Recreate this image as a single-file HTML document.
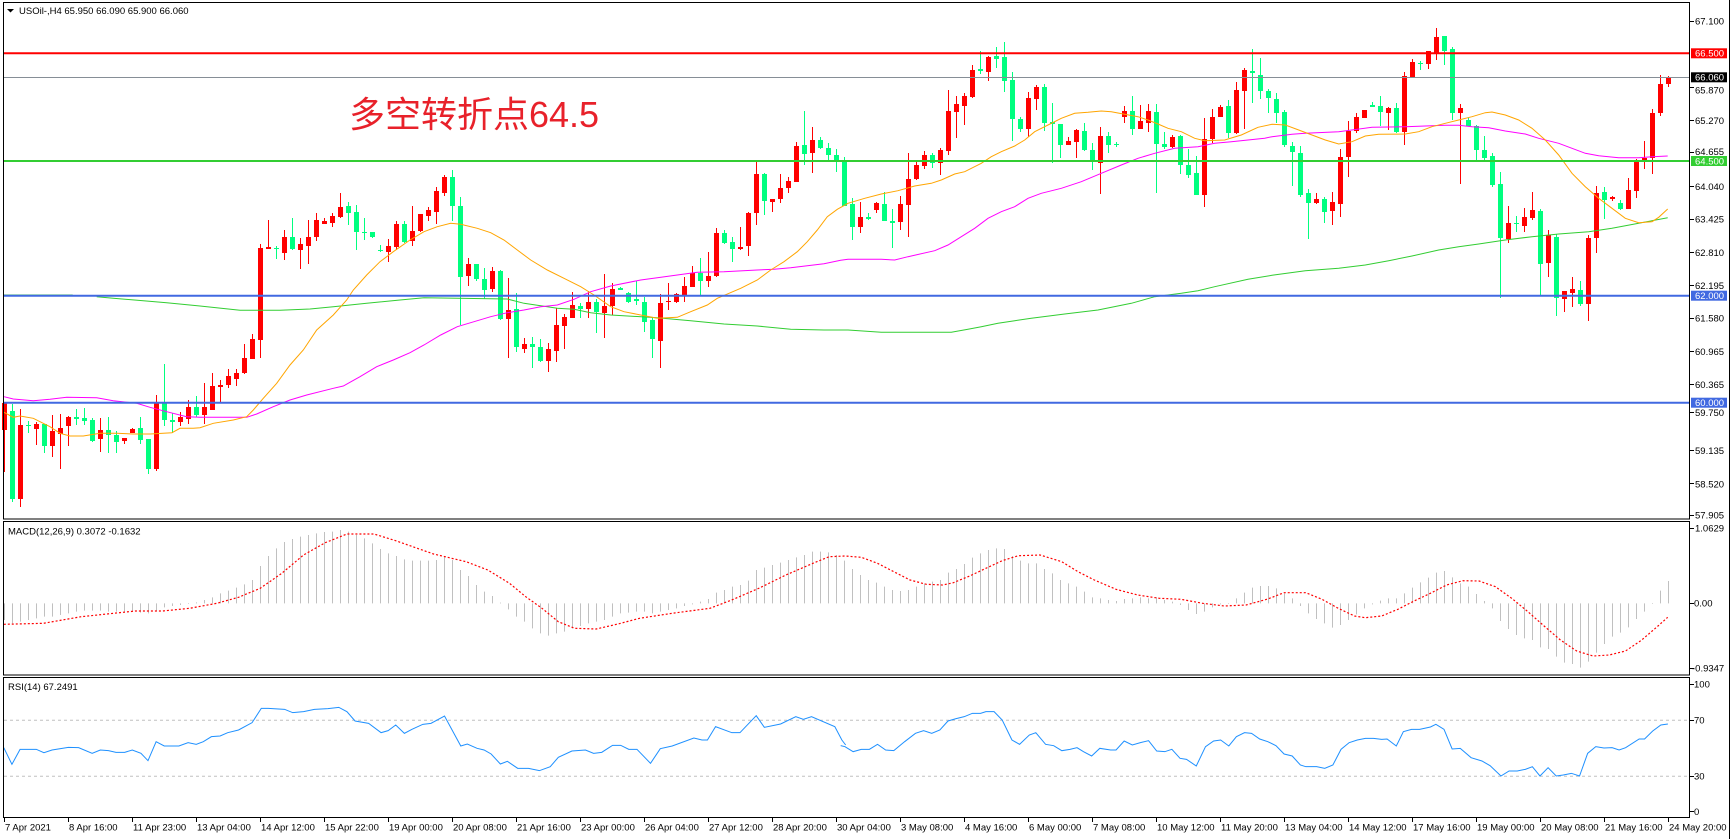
<!DOCTYPE html>
<html><head><meta charset="utf-8"><style>
html,body{margin:0;padding:0;background:#fff;}
svg{display:block;}
text{font-family:"Liberation Sans","Noto Sans CJK SC",sans-serif;font-size:9.5px;fill:#000;}
</style></head><body>
<svg width="1732" height="839" viewBox="0 0 1732 839" xmlns="http://www.w3.org/2000/svg">
<rect x="0" y="0" width="1732" height="839" fill="#fff"/>

<!-- candles -->
<path fill="none" stroke="#ff0000" stroke-width="1" d="M4.5 403V472M20.5 409V507M36.5 422V445M52.5 415V457M60.5 414V469M68.5 416V446M100.5 418V452M124.5 438V444M132.5 428V433M156.5 395V471M180.5 412V426M188.5 400V424M204.5 383V424M212.5 373V410M220.5 380V402M228.5 369V388M236.5 369V386M244.5 344V374M252.5 334V359M260.5 244V358M268.5 220V249M284.5 230V260M300.5 238V269M308.5 220V264M316.5 213V241M324.5 218V224M332.5 213V227M340.5 193V218M388.5 239V262M396.5 221V250M412.5 206V246M420.5 214V232M428.5 207V221M436.5 187V224M444.5 175V196M468.5 258V286M492.5 267V292M508.5 278V358M524.5 338V353M548.5 343V372M556.5 308V362M564.5 314V349M572.5 292V318M588.5 291V318M604.5 274V338M612.5 283V315M660.5 294V368M668.5 283V310M676.5 293V303M684.5 277V302M692.5 266V287M708.5 252V287M716.5 228V277M740.5 227V250M748.5 212V256M756.5 162V225M772.5 199V212M780.5 174V203M788.5 177V193M796.5 142V182M812.5 127V173M860.5 202V233M876.5 202V213M900.5 196V230M908.5 153V237M916.5 162V180M924.5 151V169M940.5 148V175M948.5 90V155M956.5 96V138M964.5 93V125M972.5 65V98M988.5 56V81M1028.5 92V137M1036.5 85V110M1068.5 137V145M1076.5 129V158M1100.5 127V194M1124.5 106V123M1140.5 105V129M1148.5 104V132M1172.5 135V148M1204.5 118V207M1212.5 109V143M1220.5 105V117M1236.5 82V134M1244.5 68V129M1316.5 193V204M1332.5 192V225M1340.5 149V217M1348.5 121V177M1356.5 113V133M1364.5 110V118M1388.5 107V130M1404.5 72V145M1412.5 59V78M1428.5 51V69M1436.5 28V60M1460.5 104V184M1508.5 206V243M1524.5 208V232M1532.5 192V220M1548.5 230V277M1564.5 291V312M1572.5 277V307M1588.5 235V321M1596.5 186V253M1612.5 196V201M1628.5 178V209M1636.5 159V198M1644.5 141V169M1652.5 109V174M1660.5 75V116M1668.5 76V87"/>
<path fill="#ff0000" d="M2 403h5v27h-5zM18 425h5v74h-5zM34 424h5v5h-5zM50 431h5v15h-5zM58 428h5v6h-5zM66 417h5v9h-5zM98 430h5v9h-5zM122 438h5v3h-5zM130 429h5v4h-5zM154 403h5v66h-5zM178 417h5v5h-5zM186 407h5v12h-5zM202 407h5v8h-5zM210 386h5v24h-5zM218 385h5v2h-5zM226 376h5v9h-5zM234 373h5v6h-5zM242 358h5v15h-5zM250 339h5v20h-5zM258 248h5v92h-5zM266 247h5v2h-5zM282 237h5v16h-5zM298 244h5v6h-5zM306 237h5v9h-5zM314 220h5v17h-5zM322 221h5v3h-5zM330 216h5v7h-5zM338 207h5v10h-5zM386 246h5v6h-5zM394 224h5v23h-5zM410 231h5v10h-5zM418 214h5v17h-5zM426 210h5v6h-5zM434 191h5v21h-5zM442 177h5v16h-5zM466 264h5v12h-5zM490 271h5v18h-5zM506 310h5v9h-5zM522 344h5v5h-5zM546 349h5v12h-5zM554 325h5v26h-5zM562 317h5v9h-5zM570 305h5v13h-5zM586 302h5v7h-5zM602 306h5v7h-5zM610 289h5v17h-5zM658 303h5v38h-5zM666 301h5v1h-5zM674 294h5v8h-5zM682 286h5v9h-5zM690 273h5v14h-5zM706 276h5v5h-5zM714 233h5v43h-5zM738 247h5v2h-5zM746 213h5v33h-5zM754 174h5v39h-5zM770 199h5v3h-5zM778 188h5v11h-5zM786 181h5v7h-5zM794 146h5v36h-5zM810 140h5v13h-5zM858 217h5v10h-5zM874 203h5v7h-5zM898 204h5v18h-5zM906 179h5v26h-5zM914 165h5v14h-5zM922 155h5v11h-5zM938 150h5v13h-5zM946 111h5v40h-5zM954 104h5v8h-5zM962 96h5v10h-5zM970 70h5v27h-5zM986 57h5v15h-5zM1026 98h5v31h-5zM1034 87h5v12h-5zM1066 141h5v4h-5zM1074 130h5v12h-5zM1098 136h5v27h-5zM1122 111h5v6h-5zM1138 121h5v8h-5zM1146 111h5v12h-5zM1170 137h5v10h-5zM1202 139h5v56h-5zM1210 117h5v22h-5zM1218 107h5v10h-5zM1234 90h5v43h-5zM1242 70h5v21h-5zM1314 199h5v4h-5zM1330 202h5v9h-5zM1338 157h5v47h-5zM1346 131h5v26h-5zM1354 117h5v14h-5zM1362 110h5v8h-5zM1386 108h5v5h-5zM1402 76h5v56h-5zM1410 62h5v16h-5zM1426 51h5v13h-5zM1434 37h5v16h-5zM1458 108h5v5h-5zM1506 223h5v16h-5zM1522 217h5v9h-5zM1530 210h5v8h-5zM1546 235h5v28h-5zM1562 291h5v8h-5zM1570 289h5v4h-5zM1586 238h5v66h-5zM1594 193h5v45h-5zM1610 197h5v2h-5zM1626 190h5v19h-5zM1634 161h5v30h-5zM1642 158h5v2h-5zM1650 113h5v45h-5zM1658 84h5v29h-5zM1666 77h5v7h-5z"/>
<path fill="none" stroke="#00ff7f" stroke-width="1" d="M12.5 404V502M28.5 421V433M44.5 424V453M76.5 409V425M84.5 408V425M92.5 418V442M108.5 417V453M116.5 431V453M140.5 417V444M148.5 439V474M164.5 364V426M172.5 413V433M196.5 396V417M276.5 246V259M292.5 218V250M348.5 202V225M356.5 205V250M364.5 218V240M372.5 232V238M380.5 245V252M404.5 221V243M452.5 170V221M460.5 197V325M476.5 264V281M484.5 268V299M500.5 270V320M516.5 293V352M532.5 337V368M540.5 339V362M580.5 303V318M596.5 299V333M620.5 287V290M628.5 292V303M636.5 281V305M644.5 297V332M652.5 317V358M700.5 258V295M724.5 230V244M732.5 237V262M764.5 173V215M804.5 111V165M820.5 137V149M828.5 143V160M836.5 149V172M844.5 157V206M852.5 198V240M868.5 213V220M884.5 192V221M892.5 209V248M932.5 153V168M980.5 51V74M996.5 47V68M1004.5 42V92M1012.5 72V141M1020.5 117V132M1044.5 84V131M1052.5 103V163M1060.5 124V158M1084.5 123V151M1092.5 143V170M1108.5 132V153M1116.5 142V147M1132.5 96V135M1156.5 104V193M1164.5 132V149M1180.5 135V174M1188.5 149V178M1196.5 156V195M1228.5 100V138M1252.5 49V103M1260.5 58V99M1268.5 89V113M1276.5 93V123M1284.5 110V147M1292.5 142V186M1300.5 146V197M1308.5 189V239M1324.5 197V223M1372.5 102V107M1380.5 96V126M1396.5 103V133M1420.5 61V70M1444.5 36V65M1452.5 47V120M1468.5 118V126M1476.5 125V160M1484.5 136V160M1492.5 153V187M1500.5 172V298M1516.5 216V232M1540.5 209V296M1556.5 234V316M1580.5 281V306M1604.5 187V219M1620.5 200V210"/>
<path fill="#00ff7f" d="M10 411h5v88h-5zM26 425h5v1h-5zM42 424h5v22h-5zM74 417h5v2h-5zM82 418h5v3h-5zM90 420h5v21h-5zM106 430h5v5h-5zM114 435h5v7h-5zM138 428h5v12h-5zM146 439h5v30h-5zM162 403h5v17h-5zM170 420h5v2h-5zM194 407h5v8h-5zM274 248h5v1h-5zM290 237h5v12h-5zM346 206h5v7h-5zM354 212h5v20h-5zM362 232h5v1h-5zM370 232h5v5h-5zM378 250h5v1h-5zM402 224h5v18h-5zM450 177h5v29h-5zM458 206h5v71h-5zM474 264h5v15h-5zM482 279h5v11h-5zM498 271h5v48h-5zM514 309h5v38h-5zM530 344h5v3h-5zM538 347h5v14h-5zM578 306h5v3h-5zM594 302h5v10h-5zM618 288h5v2h-5zM626 293h5v9h-5zM634 299h5v2h-5zM642 302h5v20h-5zM650 320h5v19h-5zM698 273h5v8h-5zM722 233h5v10h-5zM730 242h5v7h-5zM762 174h5v27h-5zM802 145h5v9h-5zM818 140h5v8h-5zM826 148h5v7h-5zM834 155h5v5h-5zM842 161h5v45h-5zM850 204h5v23h-5zM866 217h5v2h-5zM882 204h5v17h-5zM890 221h5v2h-5zM930 155h5v8h-5zM978 69h5v2h-5zM994 56h5v3h-5zM1002 57h5v24h-5zM1010 80h5v39h-5zM1018 119h5v10h-5zM1042 87h5v36h-5zM1050 122h5v2h-5zM1058 124h5v21h-5zM1082 131h5v19h-5zM1090 150h5v11h-5zM1106 136h5v9h-5zM1114 144h5v1h-5zM1130 111h5v18h-5zM1154 112h5v32h-5zM1162 144h5v3h-5zM1178 136h5v29h-5zM1186 165h5v10h-5zM1194 173h5v22h-5zM1226 106h5v27h-5zM1250 71h5v2h-5zM1258 75h5v16h-5zM1266 91h5v7h-5zM1274 99h5v14h-5zM1282 112h5v33h-5zM1290 146h5v6h-5zM1298 153h5v42h-5zM1306 193h5v10h-5zM1322 199h5v13h-5zM1370 105h5v2h-5zM1378 106h5v6h-5zM1394 108h5v24h-5zM1418 63h5v1h-5zM1442 36h5v15h-5zM1450 49h5v64h-5zM1466 120h5v6h-5zM1474 126h5v24h-5zM1482 150h5v8h-5zM1490 156h5v29h-5zM1498 184h5v54h-5zM1514 223h5v1h-5zM1538 211h5v53h-5zM1554 237h5v61h-5zM1578 290h5v14h-5zM1602 192h5v8h-5zM1618 203h5v6h-5z"/>

<!-- moving averages -->
<polyline fill="none" stroke="#32cd32" stroke-width="1" points="4,295 72.7,295"/>
<polyline fill="none" stroke="#32cd32" stroke-width="1" points="96.7,296.7 113.3,298.3 143.3,300.7 166.7,302.7 200,306 240,310.3 280,310.3 310,309 333.3,306.7 366.7,303.3 400,300 424,297.7 507.3,299 524,303.3 557.3,308.3 574,309.3 590.7,312.7 610.7,315 657.3,317.7 690.7,320.7 724,324 757.3,326 790.7,329.3 824,330 848,330 881.3,332.3 951.3,332.3 968,329.3 981.3,326.7 998,323.3 1014.7,320.7 1031.3,318.3 1064.7,314 1098,310 1131.3,303.3 1154.7,296.7 1181.3,293.3 1198,290.7 1214.7,286.7 1248,279.3 1272,275.3 1305.3,270.7 1338.7,268.3 1365.3,265 1388.7,260.7 1412,256 1438.7,250 1458.7,246.7 1478.7,244 1505.3,240 1532,236.7 1558.7,234 1588.7,231.7 1612,228.3 1638.7,223.3 1667.7,217.7"/>
<polyline fill="none" stroke="#ff00ff" stroke-width="1" points="4,396.7 13.3,399 33.3,400.7 50,399.3 66.7,397.3 96.7,397.7 113.3,400.7 136.7,403.3 150,407.3 166.7,411.7 186.7,416.7 200,417.3 246.7,417.3 256.7,414 273.3,406.7 290,400 306.7,395 333.3,388.3 343.3,386 360,376.7 376.7,366.7 393.3,360 410,352.7 424,345 440.7,335 457.3,326.7 474,321.7 490.7,316.7 507.3,312.7 524,310 540.7,306.7 557.3,305 574,299.3 590.7,291.7 610.7,286 640.7,280 657.3,277.7 677.3,275 697.3,272.3 724,271.7 757.3,270 774,269.3 790.7,267.7 807.3,265.7 824,263.7 840.7,260.3 848,259.3 881.3,259.3 894.7,260 908,256.7 934.7,250.7 948,245 961.3,236.7 974.7,228.3 988,218.3 1001.3,211.7 1014.7,206.7 1028,198.3 1041.3,193.3 1061.3,188.3 1081.3,181.7 1101.3,173.3 1121.3,165 1138,158.3 1154.7,153.3 1174.7,148.3 1198,146.7 1214.7,143.3 1231.3,141.7 1248,140 1264.7,138.3 1272,136.7 1292,134.3 1305.3,133.3 1338.7,131.7 1372,127.3 1405.3,126.7 1425.3,126 1445.3,125.3 1458.7,125.3 1472,126.7 1488.7,127.7 1505.3,131 1525.3,134 1538.7,138.3 1558.7,143.3 1572,148.3 1585.3,153.3 1598.7,155.7 1618.7,157.7 1638.7,157.7 1652,156.7 1667.7,156"/>
<polyline fill="none" stroke="#ffa500" stroke-width="1" points="4,412.3 13.3,417.3 20,416 33.3,418.3 50,426.7 60,433.3 70,436 83.3,436 100,433.3 116.7,433.3 133.3,434 150,434 172,432.7 180,428.3 193.3,428.3 200,427.7 213.3,423.3 233.3,420 246.7,416.7 253.3,410 263.3,398.3 276.7,383.3 290,365 303.3,350 316.7,330 333.3,315 346.7,300 353.3,290 366.7,275 380,261.7 393.3,251.7 410,240 424,231.7 437.3,226.7 450.7,223.3 460.7,224.3 477.3,228.3 490.7,232.7 504,240 517.3,250 530.7,260 547.3,270 564,278.3 580.7,286.7 594,295 610.7,306.7 624,311.7 640.7,315 657.3,318.3 677.3,317.3 690.7,311.7 707.3,305 717.3,298.3 740.7,288.3 757.3,280 770.7,270 784,261.7 797.3,251.7 807.3,241.7 817.3,230 827.3,216.7 837.3,209.3 848,203.3 864.7,198.3 881.3,194 898,190.7 914.7,186 931.3,183.3 941.3,180 954.7,174 964.7,171.7 981.3,163.3 991.3,156.7 1001.3,151.7 1014.7,146 1024.7,140 1034.7,131.7 1048,125 1061.3,118.3 1074.7,113.3 1088,112.3 1101.3,111 1111.3,111.7 1124.7,114.3 1138,116.7 1148,120 1158,124 1168,128.3 1181.3,131.7 1194.7,138.3 1204.7,140.7 1224.7,140 1241.3,135 1258,127.3 1272,124.3 1285.3,125 1298.7,130 1312,135 1325.3,140 1338.7,144 1352,141.7 1365.3,136 1378.7,134.3 1405.3,134 1418.7,131.7 1432,126.7 1445.3,123.3 1458.7,120 1472,116.7 1485.3,112.7 1492,112 1505.3,115 1518.7,120 1532,128.3 1545.3,140 1558.7,155 1572,173.3 1585.3,186.7 1598.7,198.3 1612,208.3 1625.3,218.3 1638.7,222.7 1652,221.7 1658.7,217.3 1667.7,209"/>

<!-- horizontal levels -->
<line x1="4" y1="53.3" x2="1690" y2="53.3" stroke="#ff0000" stroke-width="2"/>
<line x1="4" y1="77.5" x2="1690" y2="77.5" stroke="#868e96" stroke-width="1"/>
<line x1="4" y1="161" x2="1690" y2="161" stroke="#32cd32" stroke-width="2"/>
<line x1="4" y1="295.7" x2="1690" y2="295.7" stroke="#4169e1" stroke-width="2"/>
<line x1="4" y1="402.7" x2="1690" y2="402.7" stroke="#4169e1" stroke-width="2"/>

<!-- annotation -->
<text x="349" y="127" style="font-size:36px;fill:#e8212a;font-family:'Liberation Sans','Noto Sans CJK SC',sans-serif;">多空转折点64.5</text>

<!-- title -->
<path d="M7 9h7l-3.5 3.5z" fill="#000"/>
<text x="19" y="14">USOil-,H4  65.950 66.090 65.900 66.060</text>

<!-- MACD histogram -->
<g transform="translate(0,520) scale(1,0.333333)">
<path fill="none" stroke="#c0c0c0" stroke-width="1" d="M4.5 250V300M12.5 250V310M20.5 250V305M28.5 250V300M36.5 250V295M44.5 250V290M52.5 250V290M60.5 250V285M68.5 250V280M76.5 250V275M84.5 250V272M92.5 250V272M100.5 250V272M108.5 250V275M116.5 250V275M124.5 250V275M132.5 250V275M140.5 250V278M148.5 250V280M156.5 250V272M164.5 250V262M172.5 250V258M180.5 250V255M188.5 250V252M196.5 250V247M204.5 250V240M212.5 250V232M220.5 250V220M228.5 250V212M236.5 250V203M244.5 250V193M252.5 250V180M260.5 250V138M268.5 250V108M276.5 250V85M284.5 250V66M292.5 250V57M300.5 250V50M308.5 250V45M316.5 250V40M324.5 250V36M332.5 250V35M340.5 250V30M348.5 250V35M356.5 250V45M364.5 250V55M372.5 250V70M380.5 250V87M388.5 250V100M396.5 250V108M404.5 250V118M412.5 250V122M420.5 250V122M428.5 250V122M436.5 250V120M444.5 250V110M452.5 250V120M460.5 250V150M468.5 250V168M476.5 250V195M484.5 250V215M492.5 250V228M500.5 250V248M508.5 250V268M516.5 250V290M524.5 250V305M532.5 250V325M540.5 250V340M548.5 250V347M556.5 250V340M564.5 250V335M572.5 250V325M580.5 250V318M588.5 250V310M596.5 250V305M604.5 250V300M612.5 250V290M620.5 250V280M628.5 250V278M636.5 250V275M644.5 250V275M652.5 250V280M660.5 250V275M668.5 250V270M676.5 250V265M684.5 250V258M692.5 250V253M700.5 250V245M708.5 250V237M716.5 250V218M724.5 250V210M732.5 250V200M740.5 250V195M748.5 250V182M756.5 250V150M764.5 250V143M772.5 250V135M780.5 250V128M788.5 250V120M796.5 250V112M804.5 250V105M812.5 250V95M820.5 250V95M828.5 250V97M836.5 250V105M844.5 250V122M852.5 250V147M860.5 250V165M868.5 250V180M876.5 250V188M884.5 250V200M892.5 250V210M900.5 250V213M908.5 250V210M916.5 250V200M924.5 250V190M932.5 250V185M940.5 250V180M948.5 250V158M956.5 250V147M964.5 250V132M972.5 250V113M980.5 250V100M988.5 250V90M996.5 250V85M1004.5 250V87M1012.5 250V108M1020.5 250V122M1028.5 250V130M1036.5 250V130M1044.5 250V147M1052.5 250V160M1060.5 250V180M1068.5 250V190M1076.5 250V200M1084.5 250V215M1092.5 250V232M1100.5 250V235M1108.5 250V240M1116.5 250V243M1124.5 250V237M1132.5 250V235M1140.5 250V232M1148.5 250V235M1156.5 250V232M1164.5 250V240M1172.5 250V245M1180.5 250V255M1188.5 250V270M1196.5 250V282M1204.5 250V275M1212.5 250V262M1220.5 250V253M1228.5 250V252M1236.5 250V235M1244.5 250V218M1252.5 250V203M1260.5 250V198M1268.5 250V198M1276.5 250V205M1284.5 250V220M1292.5 250V235M1300.5 250V258M1308.5 250V280M1316.5 250V297M1324.5 250V310M1332.5 250V323M1340.5 250V315M1348.5 250V300M1356.5 250V283M1364.5 250V265M1372.5 250V253M1380.5 250V242M1388.5 250V235M1396.5 250V235M1404.5 250V220M1412.5 250V203M1420.5 250V187M1428.5 250V173M1436.5 250V158M1444.5 250V153M1452.5 250V172M1460.5 250V190M1468.5 250V200M1476.5 250V222M1484.5 250V243M1492.5 250V265M1500.5 250V303M1508.5 250V327M1516.5 250V345M1524.5 250V355M1532.5 250V360M1540.5 250V382M1548.5 250V387M1556.5 250V410M1564.5 250V428M1572.5 250V432M1580.5 250V443M1588.5 250V425M1596.5 250V398M1604.5 250V372M1612.5 250V350M1620.5 250V338M1628.5 250V322M1636.5 250V297M1644.5 250V275M1652.5 250V252M1660.5 250V212M1668.5 250V183"/>
</g>
<!-- MACD signal -->
<polyline fill="none" stroke="#ff0000" stroke-width="1.2" stroke-dasharray="2 2" points="3.8,624.3 43.4,623.3 81.3,616.7 135.5,611 162.6,611 189.7,608.3 216.8,603.3 238.5,597.3 260.2,588.3 281.8,573.3 303.5,555 325.2,542.7 346.9,534 374,534 395.7,540.7 417.3,548.3 433.6,554 466.1,561.7 487.8,570 509.5,583.3 525.7,596.7 542,608.3 558.3,621.7 574.5,628.3 596.2,629 617.9,624 639.6,618.3 672.1,613.3 710,608.3 731.7,600 758.8,588.3 785.9,575 813,563.3 829.3,556.7 845,556 861.3,557.3 877.5,563.3 893.8,571.7 910,580 926.3,584.3 942.6,585 953.4,582.7 969.7,576 985.9,568.3 1002.2,560.7 1018.4,555.7 1040.1,555 1061.8,561.7 1078,571.7 1094.3,580 1116,589.3 1137.7,595 1159.4,598.3 1181,599.3 1202.7,603.3 1224.4,606 1246.1,605 1267.8,599 1284,592.7 1305.7,592.7 1322,599.3 1338.2,608.3 1354.5,616 1365.3,617.7 1381.6,616 1397.9,609.3 1414.1,601 1430.4,593.3 1446.6,585 1462.9,580.7 1479.1,581 1495.4,586.7 1511.7,598.3 1527.9,611.7 1544.1,626 1560.4,640 1576.7,651 1593,656 1609.2,655 1625.5,651 1641.7,640 1658,626 1667.7,617.3"/>

<!-- RSI levels -->
<line x1="4" y1="720.3" x2="1690" y2="720.3" stroke="#c0c0c0" stroke-width="1" stroke-dasharray="3 3"/>
<line x1="4" y1="776.3" x2="1690" y2="776.3" stroke="#c0c0c0" stroke-width="1" stroke-dasharray="3 3"/>
<!-- RSI line -->
<g transform="translate(0,520) scale(0.54209,0.333333)">
<polyline fill="none" stroke="#1e90ff" stroke-width="1" vector-effect="non-scaling-stroke" points="7,683 22,733 37,688 67,688 81,698 96,690 126,682 145,683 170,700 185,690 200,692 214,697 230,697 244,690 260,700 273,722 288,665 303,678 330,678 347,668 362,673 375,665 390,650 406,648 420,638 440,630 465,608 482,565 495,565 525,568 540,578 560,575 580,568 605,566 625,562 640,575 655,603 680,610 703,638 716,632 730,615 746,640 760,628 780,613 795,610 820,588 850,678 862,672 880,685 893,690 906,702 923,732 936,724 955,745 975,745 995,752 1015,740 1030,712 1055,693 1080,690 1095,700 1110,697 1130,676 1145,676 1160,688 1175,688 1200,730 1218,686 1240,678 1280,654 1295,660 1305,660 1320,620 1350,638 1365,638 1395,587 1410,622 1440,612 1468,590 1482,598 1497,590 1540,620 1553,660 1560,675"/>
</g>
<g transform="translate(845,520) scale(0.54209,0.333333)">
<polyline fill="none" stroke="#1e90ff" stroke-width="1" vector-effect="non-scaling-stroke" points="-8,677 0,680 15,695 30,688 45,688 60,673 75,690 90,692 110,665 130,640 145,632 160,640 175,630 190,603 205,596 220,590 235,580 250,580 260,575 275,575 290,600 308,660 322,673 340,645 352,638 370,673 385,677 400,692 415,688 428,683 440,695 455,708 470,685 490,690 500,690 515,663 530,675 545,668 560,662 575,693 590,695 603,688 618,715 630,718 648,738 665,680 680,663 693,660 708,678 722,650 737,638 750,640 765,657 780,665 795,677 810,702 825,708 840,735 850,740 870,740 885,745 900,735 915,688 930,668 945,660 960,655 975,655 990,658 1000,657 1017,678 1030,635 1045,628 1060,628 1080,621 1090,613 1105,628 1120,687 1135,685 1155,713 1175,723 1190,737 1210,768 1225,753 1240,753 1255,748 1268,740 1282,768 1297,743 1312,768 1325,765 1340,760 1355,768 1370,700 1385,680 1400,684 1415,683 1428,690 1440,683 1465,657 1475,657 1490,633 1505,615 1518,612"/>
</g>

<!-- panel frames -->
<g fill="none" stroke="#000" stroke-width="1">
<rect x="3.5" y="2.5" width="1686" height="516.5"/>
<rect x="3.5" y="521.5" width="1686" height="153.5"/>
<rect x="3.5" y="677.5" width="1686" height="140"/>
<line x1="1729.5" y1="0" x2="1729.5" y2="839"/>
</g>

<!-- panel labels -->
<text x="8" y="534.5">MACD(12,26,9) 0.3072 -0.1632</text>
<text x="8" y="690">RSI(14) 67.2491</text>

<!-- level boxes -->
<rect x="1691" y="48.3" width="36" height="10" fill="#ff0000"/>
<rect x="1691" y="72.3" width="36" height="10" fill="#000"/>
<rect x="1691" y="156" width="36" height="10" fill="#32cd32"/>
<rect x="1691" y="290.7" width="36" height="10" fill="#4169e1"/>
<rect x="1691" y="397.7" width="36" height="10" fill="#4169e1"/>
<text x="1695" y="56.7" style="fill:#fff">66.500</text>
<text x="1695" y="80.7" style="fill:#fff">66.060</text>
<text x="1695" y="164.4" style="fill:#fff">64.500</text>
<text x="1695" y="299.1" style="fill:#fff">62.000</text>
<text x="1695" y="406.1" style="fill:#fff">60.000</text>

<!-- price axis ticks -->
<path stroke="#000" stroke-width="1" fill="none" d="M1690 21.5h4M1690 87.5h4M1690 120.5h4M1690 152.5h4M1690 186.5h4M1690 219.5h4M1690 252.5h4M1690 285.5h4M1690 318.5h4M1690 351.5h4M1690 384.5h4M1690 412.5h4M1690 450.5h4M1690 483.5h4M1690 515.5h4M1690 528.5h4M1690 603.5h4M1690 668.5h4M1690 684.5h4M1690 720.5h4M1690 776.5h4M1690 811.5h4"/>
<text x="1695" y="24.7">67.100</text>
<text x="1695" y="93.4">65.870</text>
<text x="1695" y="124.1">65.270</text>
<text x="1695" y="155.1">64.655</text>
<text x="1695" y="190.1">64.040</text>
<text x="1695" y="222.7">63.425</text>
<text x="1695" y="256.1">62.810</text>
<text x="1695" y="289.1">62.195</text>
<text x="1695" y="321.7">61.580</text>
<text x="1695" y="355.1">60.965</text>
<text x="1695" y="388">60.365</text>
<text x="1695" y="416">59.750</text>
<text x="1695" y="454.1">59.135</text>
<text x="1695" y="487.4">58.520</text>
<text x="1695" y="518.4">57.905</text>

<text x="1695" y="531.4">1.0629</text>
<text x="1694" y="606.7">0.00</text>
<text x="1692" y="671.4">-0.9347</text>
<text x="1694" y="687.4">100</text>
<text x="1694" y="723.7">70</text>
<text x="1694" y="779.7">30</text>
<text x="1694" y="815.1">0</text>

<!-- time axis -->
<path stroke="#000" stroke-width="1" fill="none" d="M4.5 818v4M68.5 818v4M132.5 818v4M196.5 818v4M260.5 818v4M324.5 818v4M388.5 818v4M452.5 818v4M516.5 818v4M580.5 818v4M644.5 818v4M708.5 818v4M772.5 818v4M836.5 818v4M900.5 818v4M964.5 818v4M1028.5 818v4M1092.5 818v4M1156.5 818v4M1220.5 818v4M1284.5 818v4M1348.5 818v4M1412.5 818v4M1476.5 818v4M1540.5 818v4M1604.5 818v4M1668.5 818v4"/>
<text x="5" y="830.5">7 Apr 2021</text>
<text x="69" y="830.5">8 Apr 16:00</text>
<text x="133" y="830.5">11 Apr 23:00</text>
<text x="197" y="830.5">13 Apr 04:00</text>
<text x="261" y="830.5">14 Apr 12:00</text>
<text x="325" y="830.5">15 Apr 22:00</text>
<text x="389" y="830.5">19 Apr 00:00</text>
<text x="453" y="830.5">20 Apr 08:00</text>
<text x="517" y="830.5">21 Apr 16:00</text>
<text x="581" y="830.5">23 Apr 00:00</text>
<text x="645" y="830.5">26 Apr 04:00</text>
<text x="709" y="830.5">27 Apr 12:00</text>
<text x="773" y="830.5">28 Apr 20:00</text>
<text x="837" y="830.5">30 Apr 04:00</text>
<text x="901" y="830.5">3 May 08:00</text>
<text x="965" y="830.5">4 May 16:00</text>
<text x="1029" y="830.5">6 May 00:00</text>
<text x="1093" y="830.5">7 May 08:00</text>
<text x="1157" y="830.5">10 May 12:00</text>
<text x="1221" y="830.5">11 May 20:00</text>
<text x="1285" y="830.5">13 May 04:00</text>
<text x="1349" y="830.5">14 May 12:00</text>
<text x="1413" y="830.5">17 May 16:00</text>
<text x="1477" y="830.5">19 May 00:00</text>
<text x="1541" y="830.5">20 May 08:00</text>
<text x="1605" y="830.5">21 May 16:00</text>
<text x="1669" y="830.5">24 May 20:00</text>
</svg>
</body></html>
